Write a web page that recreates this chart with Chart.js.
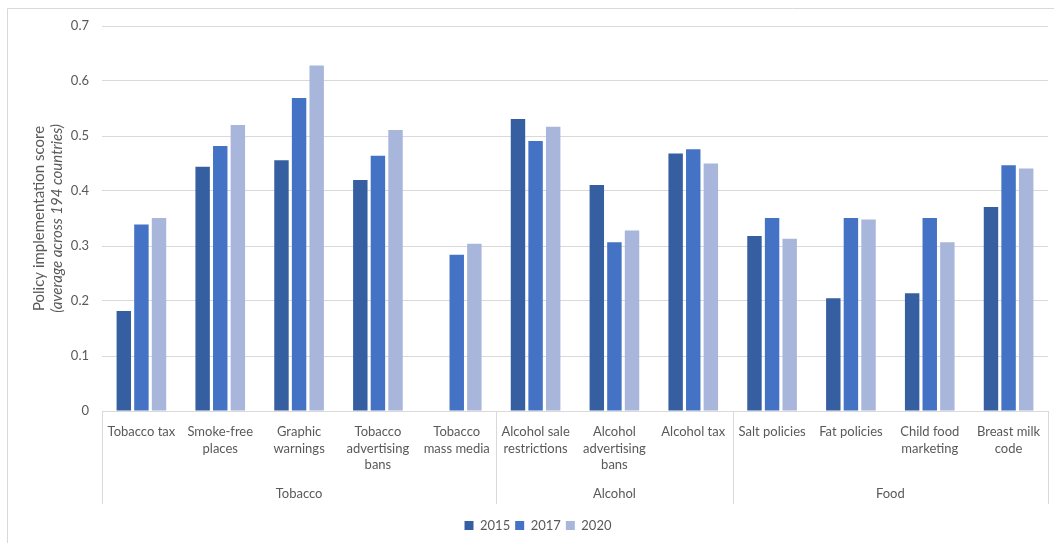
<!DOCTYPE html>
<html>
<head>
<meta charset="utf-8">
<title>Policy implementation score</title>
<script src="https://cdn.jsdelivr.net/npm/chart.js@4.4.1/dist/chart.umd.min.js"></script>
<style>
  html, body { margin: 0; padding: 0; background: #ffffff; }
  #wrap { width: 1054px; height: 543px; }
</style>
</head>
<body>
<div id="wrap"><canvas id="c" width="1054" height="543"></canvas></div>
<script>
// Policy categories (multi-line labels as drawn under each group of bars)
const categories = [
  ['Tobacco tax'],
  ['Smoke-free', 'places'],
  ['Graphic', 'warnings'],
  ['Tobacco', 'advertising', 'bans'],
  ['Tobacco', 'mass media'],
  ['Alcohol sale', 'restrictions'],
  ['Alcohol', 'advertising', 'bans'],
  ['Alcohol tax'],
  ['Salt policies'],
  ['Fat policies'],
  ['Child food', 'marketing'],
  ['Breast milk', 'code']
];

// Outer grouping of the categories: name and number of categories it spans
const groupNames = ['Tobacco', 'Alcohol', 'Food'];
const groupSizes = [5, 3, 4];

// Average implementation score across 194 countries
const years = ['2015', '2017', '2020'];
const values2015 = [0.182, 0.444, 0.456, 0.420, null, 0.531, 0.411, 0.468, 0.318, 0.205, 0.214, 0.371];
const values2017 = [0.339, 0.482, 0.569, 0.464, 0.284, 0.491, 0.307, 0.476, 0.351, 0.351, 0.351, 0.447];
const values2020 = [0.351, 0.520, 0.628, 0.511, 0.304, 0.517, 0.328, 0.450, 0.313, 0.348, 0.307, 0.441];

const yTicks = [0, 0.1, 0.2, 0.3, 0.4, 0.5, 0.6, 0.7];

const FONT = 'Lato, "Open Sans", sans-serif';
const TEXT = '#595959';
const LINE = '#d9d9d9';

// Outer frame, group separators/labels and the two-style y-axis title
const decorations = {
  id: 'decorations',
  beforeDraw(chart) {
    const ctx = chart.ctx;
    ctx.save();
    ctx.strokeStyle = LINE;
    ctx.lineWidth = 1;
    ctx.beginPath();
    ctx.moveTo(7.5, chart.height);
    ctx.lineTo(7.5, 8.5);
    ctx.lineTo(chart.width, 8.5);
    ctx.stroke();
    ctx.restore();
  },
  afterDraw(chart) {
    const ctx = chart.ctx;
    const x = chart.scales.x;
    const area = chart.chartArea;
    const half = (x.getPixelForValue(1) - x.getPixelForValue(0)) / 2;
    const sepBottom = area.bottom + 93;

    ctx.save();
    ctx.strokeStyle = LINE;
    ctx.lineWidth = 1;
    ctx.fillStyle = TEXT;
    ctx.font = '13px ' + FONT;
    ctx.textAlign = 'center';
    ctx.textBaseline = 'middle';

    let start = 0;
    const edges = [x.getPixelForValue(0) - half];
    groupSizes.forEach((n, g) => {
      const left = x.getPixelForValue(start) - half;
      const right = x.getPixelForValue(start + n - 1) + half;
      edges.push(right);
      ctx.fillText(groupNames[g], (left + right) / 2, area.bottom + 83);
      start += n;
    });
    ctx.beginPath();
    edges.forEach(px => {
      const xx = Math.round(px) + 0.5;
      ctx.moveTo(xx, area.bottom);
      ctx.lineTo(xx, sepBottom);
    });
    ctx.stroke();

    // y-axis title: plain first line, italic second line
    const cy = (area.top + area.bottom) / 2;
    ctx.translate(0, cy);
    ctx.rotate(-Math.PI / 2);
    ctx.font = '15px ' + FONT;
    ctx.fillText('Policy implementation score', 0, 39);
    ctx.font = 'italic 15px ' + FONT;
    ctx.fillText('(average across 194 countries)', 0, 57);
    ctx.restore();
  }
};

new Chart(document.getElementById('c'), {
  type: 'bar',
  data: {
    labels: categories,
    datasets: [
      { label: years[0], data: values2015, backgroundColor: '#365fa2' },
      { label: years[1], data: values2017, backgroundColor: '#4472c4' },
      { label: years[2], data: values2020, backgroundColor: '#a9b6db' }
    ]
  },
  options: {
    responsive: false,
    animation: false,
    devicePixelRatio: 1,
    datasets: { bar: { categoryPercentage: 0.67, barPercentage: 0.82 } },
    layout: { padding: { top: 26, right: 6, left: 28, bottom: 1 } },
    plugins: {
      tooltip: { enabled: false },
      legend: {
        position: 'bottom',
        labels: {
          boxWidth: 9,
          boxHeight: 9,
          padding: 5,
          color: TEXT,
          font: { family: FONT, size: 13 }
        }
      }
    },
    scales: {
      x: {
        grid: { display: false, drawTicks: false },
        border: { display: true, color: LINE },
        ticks: {
          color: TEXT,
          font: { family: FONT, size: 13, lineHeight: 1.3 },
          padding: 12,
          maxRotation: 0,
          autoSkip: false
        },
        afterFit(scale) { scale.height = 103; }
      },
      y: {
        min: 0,
        max: 0.7,
        afterBuildTicks(scale) { scale.ticks = yTicks.map(v => ({ value: v })); },
        grid: { color: LINE, drawTicks: false },
        border: { display: false },
        ticks: {
          color: TEXT,
          font: { family: FONT, size: 13 },
          padding: 13
        },
        afterFit(scale) { scale.width = 74; }
      }
    }
  },
  plugins: [decorations]
});
</script>
</body>
</html>
